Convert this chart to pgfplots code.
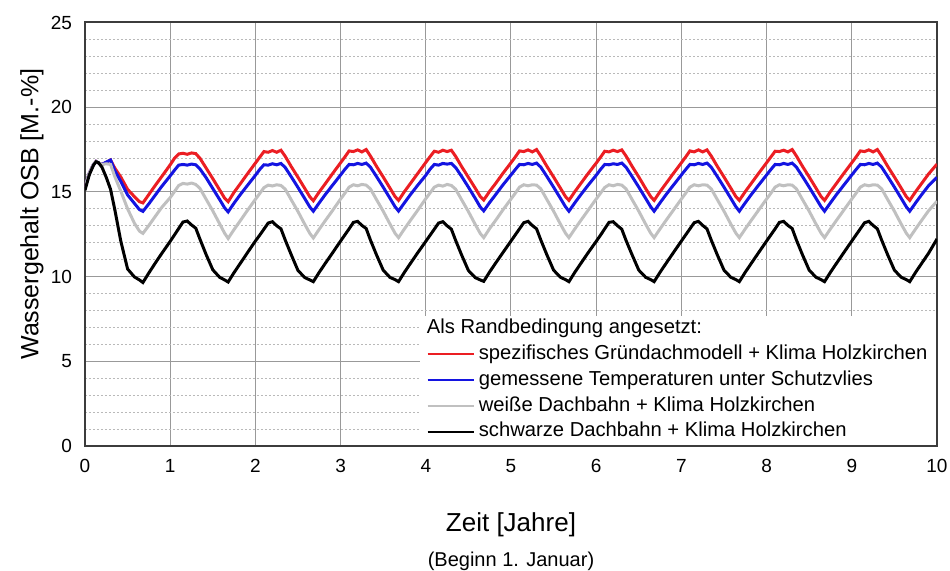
\documentclass[border=0pt]{standalone}
\usepackage{pgfplots}
\pgfplotsset{compat=1.18}
\usepackage{pgfplotstable}
\usepackage{fontspec}
\setmainfont{Liberation Sans}

\definecolor{cred}{RGB}{235,30,35}
\definecolor{cblue}{RGB}{20,20,225}
\definecolor{cgray}{RGB}{192,192,192}
\definecolor{cframe}{RGB}{60,60,60}

\pgfplotstableread{
x r b g k
0.00 15.30 15.30 15.30 15.10
0.05 16.10 16.10 16.10 16.00
0.10 16.62 16.62 16.62 16.58
0.13 16.80 16.80 16.80 16.78
0.16 16.70 16.70 16.70 16.72
0.20 16.62 16.62 16.62 16.45
0.25 16.74 16.76 16.66 15.85
0.30 16.88 16.88 16.62 15.15
0.35 16.40 16.25 15.90 13.95
0.42 15.88 15.62 15.05 12.10
0.50 15.15 14.82 14.00 10.45
0.58 14.72 14.32 13.15 9.98
0.64 14.42 13.95 12.68 9.80
0.68 14.35 13.85 12.55 9.65
0.75 14.85 14.30 13.02 10.22
0.82 15.35 14.78 13.52 10.76
0.90 15.90 15.32 14.08 11.36
1.00 16.60 15.95 14.66 12.08
1.05 16.98 16.28 15.02 12.46
1.10 17.24 16.58 15.38 12.84
1.15 17.28 16.62 15.50 13.22
1.20 17.22 16.58 15.46 13.28
1.25 17.30 16.64 15.52 13.05
1.30 17.26 16.60 15.44 12.86
1.35 16.98 16.35 15.20 12.20
1.42 16.42 15.85 14.58 11.32
1.50 15.78 15.20 13.88 10.40
1.58 15.12 14.55 13.12 9.96
1.64 14.62 14.05 12.55 9.80
1.68 14.42 13.82 12.25 9.68
1.75 14.98 14.34 12.78 10.24
1.82 15.46 14.82 13.28 10.76
1.90 16.02 15.34 13.86 11.36
2.00 16.70 15.98 14.56 12.10
2.05 17.04 16.32 14.90 12.44
2.10 17.38 16.60 15.25 12.80
2.15 17.34 16.58 15.40 13.16
2.20 17.44 16.66 15.35 13.24
2.25 17.34 16.60 15.42 13.00
2.30 17.46 16.68 15.38 12.82
2.35 17.10 16.44 15.16 12.16
2.42 16.50 15.90 14.54 11.30
2.50 15.86 15.26 13.84 10.36
2.58 15.20 14.60 13.08 9.94
2.64 14.70 14.10 12.54 9.80
2.68 14.48 13.86 12.28 9.70
2.75 15.00 14.36 12.80 10.26
2.82 15.48 14.84 13.30 10.78
2.90 16.04 15.36 13.86 11.36
3.00 16.72 16.00 14.58 12.10
3.05 17.06 16.33 14.92 12.46
3.10 17.42 16.62 15.28 12.82
3.15 17.38 16.60 15.42 13.20
3.20 17.48 16.68 15.36 13.26
3.25 17.36 16.62 15.44 13.02
3.30 17.50 16.70 15.40 12.84
3.35 17.12 16.46 15.18 12.16
3.42 16.52 15.92 14.56 11.30
3.50 15.88 15.28 13.86 10.38
3.58 15.22 14.62 13.10 9.95
3.64 14.72 14.12 12.55 9.82
3.68 14.50 13.87 12.30 9.70
3.75 15.02 14.36 12.82 10.26
3.82 15.50 14.84 13.32 10.78
3.90 16.05 15.36 13.88 11.37
4.00 16.74 15.98 14.60 12.08
4.05 17.08 16.34 14.94 12.44
4.10 17.40 16.62 15.28 12.80
4.15 17.34 16.58 15.40 13.16
4.20 17.46 16.68 15.34 13.24
4.25 17.38 16.64 15.44 13.00
4.30 17.46 16.68 15.38 12.80
4.35 17.10 16.44 15.16 12.14
4.42 16.50 15.92 14.54 11.28
4.50 15.86 15.28 13.84 10.36
4.58 15.22 14.62 13.08 9.94
4.64 14.72 14.10 12.54 9.80
4.68 14.52 13.88 12.30 9.72
4.75 15.04 14.38 12.84 10.28
4.82 15.50 14.84 13.32 10.80
4.90 16.06 15.38 13.90 11.38
5.00 16.72 16.00 14.58 12.10
5.05 17.06 16.32 14.92 12.46
5.10 17.42 16.62 15.28 12.82
5.15 17.38 16.60 15.42 13.18
5.20 17.48 16.68 15.36 13.26
5.25 17.36 16.62 15.42 13.02
5.30 17.50 16.70 15.40 12.82
5.35 17.12 16.46 15.18 12.16
5.42 16.52 15.92 14.56 11.30
5.50 15.88 15.28 13.86 10.38
5.58 15.22 14.62 13.10 9.96
5.64 14.72 14.12 12.56 9.82
5.68 14.50 13.86 12.30 9.70
5.75 15.02 14.36 12.82 10.26
5.82 15.50 14.84 13.32 10.78
5.90 16.05 15.36 13.88 11.37
6.00 16.70 15.98 14.58 12.08
6.05 17.04 16.32 14.92 12.44
6.10 17.40 16.62 15.26 12.82
6.15 17.36 16.60 15.42 13.20
6.20 17.46 16.66 15.36 13.24
6.25 17.38 16.62 15.44 13.00
6.30 17.48 16.70 15.40 12.80
6.35 17.12 16.46 15.18 12.14
6.42 16.52 15.92 14.56 11.30
6.50 15.88 15.28 13.86 10.38
6.58 15.20 14.62 13.10 9.96
6.64 14.72 14.12 12.56 9.82
6.68 14.50 13.86 12.30 9.70
6.75 15.02 14.36 12.82 10.26
6.82 15.50 14.84 13.32 10.78
6.90 16.05 15.36 13.88 11.37
7.00 16.72 16.00 14.58 12.10
7.05 17.06 16.32 14.92 12.46
7.10 17.42 16.62 15.28 12.82
7.15 17.36 16.60 15.42 13.18
7.20 17.48 16.68 15.36 13.26
7.25 17.36 16.62 15.42 13.02
7.30 17.48 16.70 15.40 12.82
7.35 17.12 16.46 15.18 12.16
7.42 16.52 15.92 14.56 11.30
7.50 15.88 15.28 13.86 10.38
7.58 15.22 14.62 13.10 9.96
7.64 14.72 14.12 12.56 9.82
7.68 14.50 13.86 12.30 9.70
7.75 15.02 14.36 12.82 10.26
7.82 15.50 14.84 13.32 10.78
7.90 16.05 15.36 13.88 11.37
8.00 16.72 16.00 14.58 12.10
8.05 17.06 16.32 14.92 12.46
8.10 17.40 16.62 15.28 12.82
8.15 17.38 16.60 15.42 13.20
8.20 17.46 16.68 15.36 13.26
8.25 17.36 16.62 15.42 13.02
8.30 17.50 16.70 15.40 12.84
8.35 17.12 16.46 15.18 12.16
8.42 16.52 15.92 14.56 11.30
8.50 15.88 15.28 13.86 10.38
8.58 15.22 14.62 13.10 9.96
8.64 14.72 14.12 12.56 9.82
8.68 14.50 13.86 12.30 9.70
8.75 15.02 14.36 12.82 10.26
8.82 15.50 14.84 13.32 10.78
8.90 16.05 15.36 13.88 11.37
9.00 16.72 16.00 14.58 12.10
9.05 17.06 16.32 14.92 12.46
9.10 17.42 16.62 15.28 12.82
9.15 17.38 16.60 15.42 13.18
9.20 17.48 16.68 15.36 13.26
9.25 17.36 16.62 15.42 13.02
9.30 17.50 16.70 15.40 12.82
9.35 17.12 16.46 15.18 12.16
9.42 16.52 15.92 14.56 11.30
9.50 15.88 15.28 13.86 10.38
9.58 15.22 14.62 13.10 9.96
9.64 14.72 14.12 12.56 9.82
9.68 14.50 13.86 12.30 9.70
9.75 15.02 14.36 12.82 10.26
9.82 15.50 14.84 13.32 10.78
9.90 16.05 15.36 13.88 11.37
10.00 16.64 15.86 14.45 12.22
}\datatable

\begin{document}
\begin{tikzpicture}
\useasboundingbox (-42.5pt,-62.5pt) rectangle (432.5pt,223pt);
\begin{axis}[
  at={(0,0)}, anchor=south west,
  width=426pt, height=211.75pt, scale only axis,
  xmin=0, xmax=10, ymin=0, ymax=25,
  xtick={0,1,...,10}, ytick={0,5,...,25},
  minor y tick num=4,
  xmajorgrids, ymajorgrids, yminorgrids,
  major grid style={draw=gray!80, line width=0.5pt},
  minor grid style={draw=gray!55, line width=0.5pt, dash pattern=on 1pt off 1pt},
  major tick length=0pt, minor tick length=0pt,
  axis line style={draw=cframe, line width=1pt},
  /pgf/number format/assume math mode=true,
  tick label style={font=\fontsize{9.5}{11}\selectfont},
  xticklabel style={yshift=-3pt},
  yticklabel style={xshift=-3pt},
  legend cell align=left,
  legend style={at={(rel axis cs:1,0)}, anchor=south east, xshift=-0.5pt, yshift=0.5pt,
    draw=none, fill=white, inner xsep=3.5pt, inner ysep=1pt,
    font=\fontsize{10.1}{12}\selectfont, row sep=2pt, column sep=1.5pt,
    nodes={inner sep=0.6pt, text height=7.5pt, text depth=2.2pt}},
  legend image code/.code={\draw[#1, line width=1pt] (0pt,0pt) -- (23pt,0pt);},
]
\addlegendimage{empty legend}
\addlegendentry{\hspace*{-26pt}Als Randbedingung angesetzt:}
\addplot[cred, line width=1.5pt] table[x=x, y=r] {\datatable};
\addlegendentry{spezifisches Gründachmodell + Klima Holzkirchen}
\addplot[cblue, line width=1.5pt] table[x=x, y=b] {\datatable};
\addlegendentry{gemessene Temperaturen unter Schutzvlies}
\addplot[cgray, line width=1.5pt] table[x=x, y=g] {\datatable};
\addlegendentry{weiße Dachbahn + Klima Holzkirchen}
\addplot[black, line width=1.5pt] table[x=x, y=k] {\datatable};
\addlegendentry{schwarze Dachbahn + Klima Holzkirchen}
\end{axis}
\node[rotate=90, font=\fontsize{12.5}{14}\selectfont] at (-26.5pt,115.9pt) {Wassergehalt OSB [M.-\%]};
\node[font=\fontsize{13}{15}\selectfont] at (213pt,-39.5pt) {Zeit [Jahre]};
\node[font=\fontsize{10}{12}\selectfont] at (213pt,-57.5pt) {(Beginn 1. Januar)};
\end{tikzpicture}
\end{document}
